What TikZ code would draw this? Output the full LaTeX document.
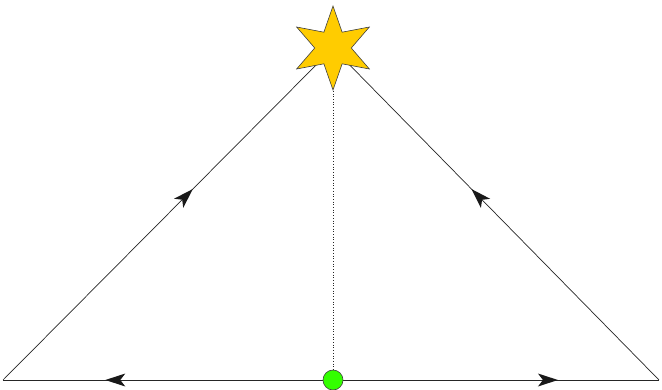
\documentclass[tikz,border=0pt]{standalone}
\usetikzlibrary{shapes.geometric,decorations.markings,backgrounds}
\definecolor{stargold}{HTML}{FFCC00}
\definecolor{dotgreen}{HTML}{33FF00}
\tikzset{
  x=1pt,y=-1pt,
  edge/.style={line width=0.7pt,draw=black!85},
  midarrow/.style={postaction={decorate},decoration={markings,
     mark=at position #1 with {\fill[black!90] (0pt,0pt) -- (-20pt,6.5pt) -- (-15pt,0pt) -- (-20pt,-6.5pt) -- cycle;}}},
  starnode/.style={star,star points=6,star point ratio=2.3,minimum size=84pt,inner sep=0pt,
     fill=stargold,draw=black!75,line width=0.6pt},
  dotnode/.style={circle,minimum size=20pt,inner sep=0pt,fill=dotgreen,draw=black!75,line width=0.6pt}
}
\begin{document}
\begin{tikzpicture}
\useasboundingbox (0,0) rectangle (662,389);
\coordinate (L) at (3,380);
\coordinate (R) at (659,380);
\node[starnode] (s) at (333,48) {};
\node[dotnode] (d) at (333,380) {};
\begin{scope}[on background layer]
\draw[edge,midarrow=0.575] (L) -- (s.center);
\draw[edge,midarrow=0.575] (R) -- (s.center);
\draw[edge,midarrow=0.69] (d.center) -- (L);
\draw[edge,midarrow=0.69] (d.center) -- (R);
\draw[edge,dotted,line width=0.7pt] (s) -- (d);
\end{scope}
\end{tikzpicture}
\end{document}
